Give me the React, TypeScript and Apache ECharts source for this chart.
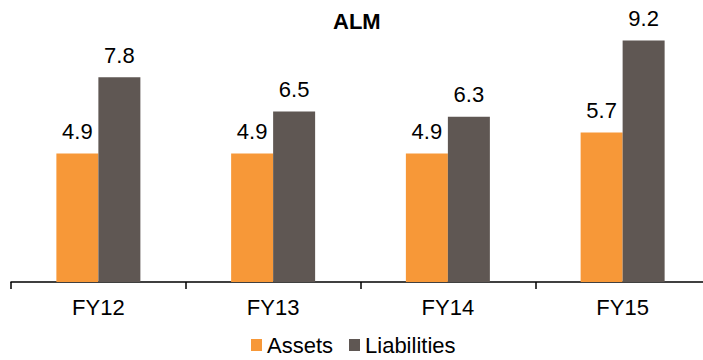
import React, { useEffect, useRef } from "react";
import * as echarts from "echarts";

const categories = ["FY12", "FY13", "FY14", "FY15"];
const assets = [4.9, 4.9, 4.9, 5.7];
const liabilities = [7.8, 6.5, 6.3, 9.2];

const FONT = "'Liberation Sans', Arial, sans-serif";
const SIZE = 22;

export default function App() {
  const ref = useRef<HTMLDivElement>(null);

  useEffect(() => {
    if (!ref.current) return;
    const chart = echarts.init(ref.current, undefined, { renderer: "svg" });
    const label = {
      show: true,
      position: "top",
      distance: 11,
      color: "#000",
      fontSize: SIZE,
      fontFamily: FONT,
      formatter: (p: any) => Number(p.value).toFixed(1),
    };
    chart.setOption({
      animation: false,
      title: {
        text: "ALM",
        left: 328,
        top: 5,
        textStyle: { fontSize: SIZE, fontWeight: "bold", fontFamily: FONT, color: "#000" },
      },
      legend: {
        left: 246,
        top: 329,
        itemWidth: 11,
        itemHeight: 12,
        itemGap: 16,
        icon: "rect",
        textStyle: { fontSize: SIZE, fontFamily: FONT, color: "#000" },
        data: ["Assets", "Liabilities"],
      },
      // the axis runs past the right edge; the last tick falls outside the view
      grid: { left: 11, top: 19.5, width: 699, height: 262.5 },
      xAxis: {
        type: "category",
        data: categories,
        axisLine: { lineStyle: { color: "#000", width: 1.5 } },
        axisTick: { show: true, length: 7, lineStyle: { color: "#000", width: 1.5 } },
        axisLabel: { margin: 14, fontSize: SIZE, fontFamily: FONT, color: "#000" },
      },
      yAxis: {
        type: "value",
        min: 0,
        max: 10,
        show: false,
        splitLine: { show: false },
      },
      series: [
        {
          name: "Assets",
          type: "bar",
          data: assets,
          barWidth: 42,
          barGap: "0%",
          itemStyle: { color: "#F79838" },
          label,
        },
        {
          name: "Liabilities",
          type: "bar",
          data: liabilities,
          barWidth: 42,
          barGap: "0%",
          itemStyle: { color: "#5F5753" },
          label,
        },
      ],
    });
    return () => chart.dispose();
  }, []);

  return (
    <div
      style={{
        position: "fixed",
        left: 0,
        top: 0,
        width: 703,
        height: 360,
        overflow: "hidden",
        background: "#fff",
      }}
    >
      <div ref={ref} style={{ width: 730, height: 360 }} />
    </div>
  );
}
